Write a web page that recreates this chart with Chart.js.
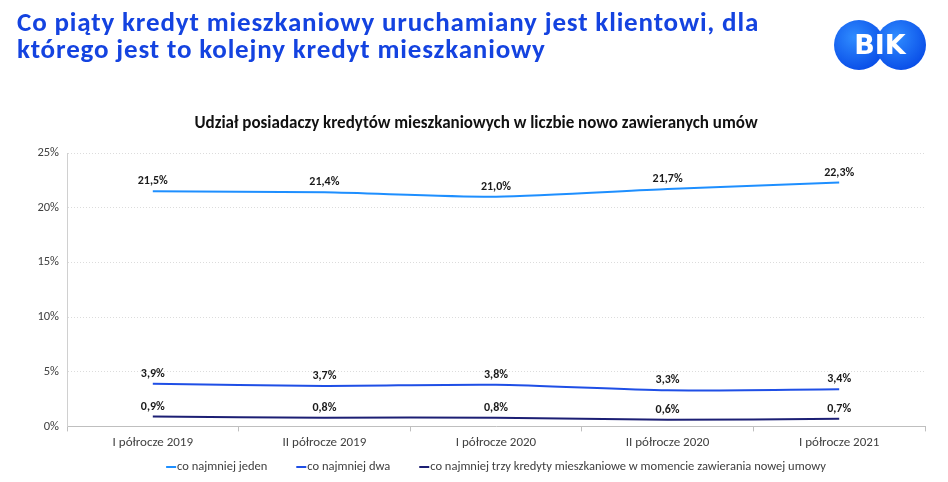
<!DOCTYPE html>
<html>
<head>
<meta charset="utf-8">
<script src="https://cdn.jsdelivr.net/npm/chart.js@4.4.1/dist/chart.umd.min.js"></script>
<style>
  body { margin: 0; background: #fff; font-family: Carlito, Lato, sans-serif; }
  #page { position: relative; width: 948px; height: 482px; overflow: hidden; }
  #heading { position: absolute; left: 17px; top: 8px; color: #1443e0; font-weight: bold; font-size: 27px; line-height: 27px; letter-spacing: 0.85px; white-space: nowrap; }
  #subtitle { position: absolute; left: 0; width: 952px; top: 113px; text-align: center; color: #111; font-weight: bold; font-size: 17px; line-height: 20px; }
  #logo { position: absolute; left: 834px; top: 20px; width: 92px; height: 50px; }
  #logo .c { position: absolute; top: 0; width: 50px; height: 50px; border-radius: 50%; background: radial-gradient(circle at 40% 35%, #2f8cff, #0a4fe8 75%); }
  #logo .t { position: absolute; left: 0; top: 0; width: 92px; line-height: 50px; text-align: center; color: #fff; font-family: 'DejaVu Sans', sans-serif; font-weight: bold; font-size: 27px; }
  #wrap { position: absolute; left: 0; top: 0; width: 948px; height: 482px; }
</style>
</head>
<body>
<div id="page">
  <div id="wrap"><canvas id="myChart" width="948" height="482"></canvas></div>
  <div id="heading">Co piąty kredyt mieszkaniowy uruchamiany jest klientowi, dla<br>którego jest to kolejny kredyt mieszkaniowy</div>
  <div id="subtitle">Udział posiadaczy kredytów mieszkaniowych w liczbie nowo zawieranych umów</div>
  <div id="logo"><div class="c" style="left:0"></div><div class="c" style="left:42px"></div><div class="t">BIK</div></div>
</div>
<script>
const categories = ['I półrocze 2019', 'II półrocze 2019', 'I półrocze 2020', 'II półrocze 2020', 'I półrocze 2021'];
const seriesNames = ['co najmniej jeden', 'co najmniej dwa', 'co najmniej trzy kredyty mieszkaniowe w momencie zawierania nowej umowy'];
const atLeastOne = [21.5, 21.4, 21.0, 21.7, 22.3];
const atLeastTwo = [3.9, 3.7, 3.8, 3.3, 3.4];
const atLeastThree = [0.9, 0.8, 0.8, 0.6, 0.7];
const yTicks = [0, 5, 10, 15, 20, 25];

const fontFamily = "Carlito, Lato, sans-serif";
const fmt = v => v.toFixed(1).replace('.', ',') + '%';

// labels over every point, no datalabels plugin available offline
const pointLabels = {
  id: 'pointLabels',
  afterDatasetsDraw(chart) {
    const ctx = chart.ctx;
    ctx.save();
    ctx.font = 'bold 12px ' + fontFamily;
    ctx.fillStyle = '#1a1a1a';
    ctx.textAlign = 'center';
    ctx.textBaseline = 'middle';
    chart.data.datasets.forEach((ds, i) => {
      chart.getDatasetMeta(i).data.forEach((pt, j) => {
        ctx.fillText(fmt(ds.data[j]), pt.x, pt.y - 10);
      });
    });
    ctx.restore();
  }
};

// excel-like legend: short line, text right after it, centred under the plot
const bottomLegend = {
  id: 'bottomLegend',
  afterDraw(chart) {
    const ctx = chart.ctx;
    const area = chart.chartArea;
    const mark = 10, gap = 29;
    ctx.save();
    ctx.font = '12.5px ' + fontFamily;
    const widths = chart.data.datasets.map(ds => mark + 1 + ctx.measureText(ds.label).width);
    const total = widths.reduce((a, b) => a + b, 0) + gap * (widths.length - 1);
    let x = (area.left + area.right) / 2 - total / 2;
    const y = 467;
    ctx.textBaseline = 'middle';
    chart.data.datasets.forEach((ds, i) => {
      ctx.strokeStyle = ds.borderColor;
      ctx.lineWidth = 2;
      ctx.beginPath();
      ctx.moveTo(x, y);
      ctx.lineTo(x + mark, y);
      ctx.stroke();
      ctx.fillStyle = '#404040';
      ctx.fillText(ds.label, x + mark + 1, y);
      x += widths[i] + gap;
    });
    ctx.restore();
  }
};

const ctx = document.getElementById('myChart').getContext('2d');
const myChart = new Chart(ctx, {
  type: 'line',
  data: {
    labels: categories,
    datasets: [
      { label: seriesNames[0], data: atLeastOne, borderColor: '#1e8fff', backgroundColor: '#1e8fff' },
      { label: seriesNames[1], data: atLeastTwo, borderColor: '#1f4fe6', backgroundColor: '#1f4fe6' },
      { label: seriesNames[2], data: atLeastThree, borderColor: '#1c1f74', backgroundColor: '#1c1f74' }
    ]
  },
  options: {
    responsive: false,
    animation: false,
    devicePixelRatio: 1,
    layout: { padding: { top: 153, right: 23, bottom: 27, left: 0 } },
    elements: {
      line: { borderWidth: 2, tension: 0.25 },
      point: { radius: 0 }
    },
    plugins: {
      legend: { display: false },
      tooltip: { enabled: false }
    },
    scales: {
      x: {
        offset: true,
        grid: { offset: true, drawOnChartArea: false, tickLength: 5, color: '#bfbfbf' },
        border: { color: '#bfbfbf' },
        ticks: { color: '#404040', font: { family: fontFamily, size: 13 }, padding: 4 }
      },
      y: {
        min: 0,
        max: 25,
        afterFit: s => { s.width = 67; },
        afterBuildTicks: s => { s.ticks = yTicks.map(v => ({ value: v })); },
        grid: { color: '#dcdcdc', drawTicks: false },
        border: { color: '#d0d0d0', dash: [1, 2] },
        ticks: { color: '#404040', font: { family: fontFamily, size: 12.5 }, padding: 8, callback: v => v + '%' }
      }
    }
  },
  plugins: [pointLabels, bottomLegend]
});
</script>
</body>
</html>
